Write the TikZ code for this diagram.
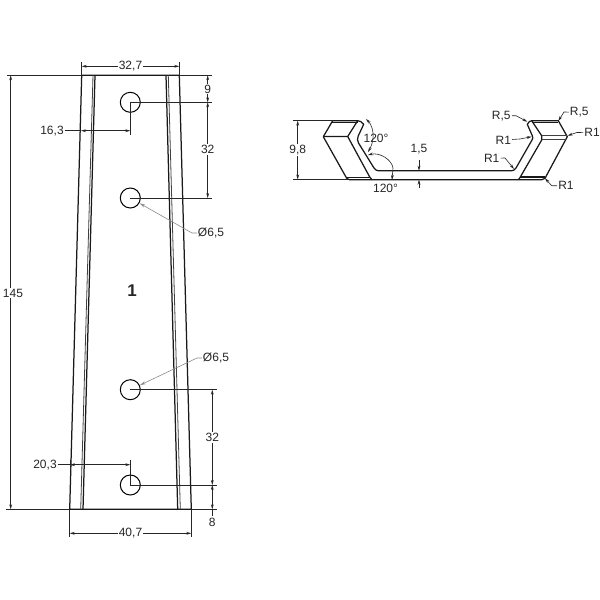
\documentclass[tikz,border=0pt]{standalone}
\usepackage{fontspec}
\setmainfont{Liberation Sans}
\usetikzlibrary{arrows.meta}
\tikzset{
  part/.style={line width=1.25pt,line join=round,color=black!90},
  thinpart/.style={line width=0.8pt,color=black!75},
  dimline/.style={line width=0.6pt,color=black!85},
  dimarrow/.style={dimline,{Stealth[length=5pt,width=2.8pt]}-{Stealth[length=5pt,width=2.8pt]}},
  onearrow/.style={dimline,-{Stealth[length=5pt,width=2.8pt]}},
  leader/.style={line width=0.6pt,color=black!45,-{Stealth[length=6pt,width=3pt]}},
  dimtext/.style={font=\fontsize{12}{13}\selectfont,color=black!85,fill=white,inner sep=1pt},
  hole/.style={circle,draw,line width=1pt,minimum size=20pt,inner sep=0pt}
}
\begin{document}
\begin{tikzpicture}[x=1pt,y=-1pt]
  \useasboundingbox (0,0) rectangle (600,600);
  \fill[white] (0,0) rectangle (600,600);
  % plate
  \coordinate (plateTL) at (81.7,75.3);
  \coordinate (plateTR) at (179.3,75.3);
  \coordinate (plateBL) at (69.7,509.3);
  \coordinate (plateBR) at (191.3,509.3);
  \draw[part] (plateTL) -- (plateTR) -- (plateBR) -- (plateBL) -- cycle;
  \draw[part] (95,75.3) -- (83,509.3);
  \draw[thinpart] (93,75.3) -- (80.7,509.3);
  \draw[part] (166,75.3) -- (177.7,509.3);
  \draw[thinpart] (168.3,75.3) -- (180.3,509.3);
  \node[hole] (holeA) at (130.3,102.3) {};
  \node[hole] (holeB) at (130.3,198) {};
  \node[hole] (holeC) at (130.3,389.7) {};
  \node[hole] (holeD) at (130.3,485) {};
  \node[font=\fontsize{17}{18}\selectfont\bfseries,color=black!85] (partno) at (132,291) {1};
  % extension lines
  \coordinate (extTL) at (7,75.3);
  \coordinate (extTR) at (212,75.3);
  \coordinate (extBL) at (6,509.3);
  \coordinate (extBR) at (217,509.3);
  \draw[dimline] (extTL) -- (plateTL) (plateTR) -- (extTR);
  \draw[dimline] (extBL) -- (plateBL) (plateBR) -- (extBR);
  \draw[dimline] (holeA.center) -- (212,102.3);
  \draw[dimline] (holeB.center) -- (212,198);
  \draw[dimline] (holeC.center) -- (217,389.7);
  \draw[dimline] (holeD.center) -- (217,485);
  \draw[dimline] (holeA.center) -- (130.3,135);
  \draw[dimline] (holeD.center) -- (130.3,460);
  \draw[dimline] (plateTL) -- (81.7,62);
  \draw[dimline] (plateTR) -- (179.3,62);
  \draw[dimline] (plateBL) -- (69.7,537);
  \draw[dimline] (plateBR) -- (191.3,537);
  % dimensions
  \draw[dimarrow] (81.7,66.3) -- (179.3,66.3);
  \node[dimtext] (widthTop) at (130.5,66.3) {32,7};
  \draw[dimarrow] (69.7,533.3) -- (191.3,533.3);
  \node[dimtext] (widthBot) at (130.5,533.3) {40,7};
  \draw[dimarrow] (10.7,75.3) -- (10.7,509.3);
  \node[dimtext] (height) at (13,293) {145};
  \draw[dimarrow] (207.7,75.3) -- (207.7,102.3);
  \node[dimtext] (dimNine) at (207.7,89) {9};
  \draw[dimarrow] (207.7,102.3) -- (207.7,198);
  \node[dimtext] (dimUpper) at (207.7,149.5) {32};
  \draw[dimarrow] (212.3,389.7) -- (212.3,485);
  \node[dimtext] (dimLower) at (212.3,437.5) {32};
  \draw[dimarrow] (212.3,485) -- (212.3,509.3);
  \draw[dimline] (212.3,509.3) -- (212.3,516);
  \node[dimtext] (dimEight) at (212.3,522) {8};
  \node[dimtext] (offsetTop) at (52,130.7) {16,3};
  \draw[dimline] (offsetTop) -- (81,130.7);
  \draw[dimarrow] (81,130.7) -- (130.3,130.7);
  \node[dimtext] (offsetBot) at (45,464.7) {20,3};
  \draw[dimline] (offsetBot) -- (70,464.7);
  \draw[dimarrow] (70,464.7) -- (130.3,464.7);
  \draw[dimline] (70,460) -- (70,470);
  % leaders
  \node[dimtext] (diaTop) at (211,233) {Ø6,5};
  \draw[leader] (diaTop) -- (192,233) -- (holeB);
  \node[dimtext] (diaBot) at (216,358) {Ø6,5};
  \draw[leader] (diaBot) -- (197,358) -- (holeC);
  % section
  \draw[part] (332.7,120.7) -- (357.7,120.7) .. controls (360,120.7) and (362,122) .. (363.7,124.3)
    -- (358.2,136) .. controls (357.2,138.5) and (357.2,140.5) .. (358.5,143)
    -- (374,168) .. controls (375.5,170) and (376.5,170.7) .. (378.3,170.7)
    -- (511.7,170.7) .. controls (513.5,170.7) and (514.5,170) .. (516,168)
    -- (532,140) .. controls (533,138.5) and (533,137) .. (532.2,135.5)
    -- (527.3,124.3) .. controls (528.5,122) and (530,120.7) .. (531.7,120.7)
    -- (558.3,120.7) -- (567.3,136.7) -- (545,178.3) .. controls (544,179.3) and (543,179.7) .. (541.7,179.7)
    -- (349.5,179.7) .. controls (348,179.7) and (347.2,179.3) .. (346.7,178.3)
    -- (323.3,136.7) -- cycle;
  \draw[part] (357.7,120.7) -- (347.7,136.5) -- (323.3,136.5) (347.7,136.5) -- (370,177.5) -- (372,179.7);
  \draw[part] (332,122.2) -- (358,122.2) (346,177.6) -- (370,177.6);
  \draw[part] (531.7,120.7) -- (541.7,135.7) -- (541.7,140) -- (520,177.5) -- (518.5,179.7);
  \draw[part] (532,122.2) -- (558.3,122.2) (520,177) -- (545,177);
  \draw[thinpart] (541.7,135.7) -- (567.3,135.7) (541.7,139.8) -- (565.5,139.8);
  % section dimensions
  \coordinate (secTopL) at (293.3,120.7);
  \coordinate (secBotL) at (293.3,179.5);
  \draw[dimline] (secTopL) -- (332.7,120.7) (secBotL) -- (348,179.5);
  \draw[dimarrow] (297.7,120.7) -- (297.7,179.5);
  \node[dimtext] (secHeight) at (297.7,150) {9,8};
  \node[dimtext,fill=none] (thick) at (419,149.5) {1,5};
  \coordinate (thickTop) at (419,160);
  \coordinate (thickBot) at (419,188);
  \draw[onearrow] (thickTop) -- (419,170.7);
  \draw[onearrow] (thickBot) -- (419,179.7);
  % angles
  \node[dimtext,fill=none] (angTop) at (376,138) {120°};
  \node[dimtext,fill=none] (angBot) at (385.5,188) {120°};
  \draw[dimarrow] (366,119) .. controls (374,127) and (375,140) .. (368,152);
  \draw[dimarrow] (368,155) .. controls (380,152) and (392,160) .. (393,168) -- (392,180);
  % radius labels
  \node[dimtext,fill=none] (radA) at (501.3,116) {R,5};
  \node[dimtext,fill=none] (radB) at (579.3,112.3) {R,5};
  \node[dimtext,fill=none] (radC) at (592,132.3) {R1};
  \node[dimtext,fill=none] (radD) at (503.3,140) {R1};
  \node[dimtext,fill=none] (radE) at (491.7,158.3) {R1};
  \node[dimtext,fill=none] (radF) at (566,185.7) {R1};
  \coordinate (tipA) at (527.3,121.7);
  \coordinate (tipB) at (558.3,121);
  \coordinate (tipC) at (567.7,135.7);
  \coordinate (tipD) at (531.7,136.7);
  \coordinate (tipE) at (514,169);
  \coordinate (tipF) at (545,178.3);
  \draw[onearrow] (radA) -- (516,115.7) -- (tipA);
  \draw[onearrow] (radB) -- (564,112) -- (tipB);
  \draw[onearrow] (radC) -- (576.7,132.5) -- (tipC);
  \draw[onearrow] (radD) -- (520,139) -- (tipD);
  \draw[onearrow] (radE) -- (505,158) -- (tipE);
  \draw[onearrow] (radF) -- (551.7,185.7) -- (tipF);
\end{tikzpicture}
\end{document}
